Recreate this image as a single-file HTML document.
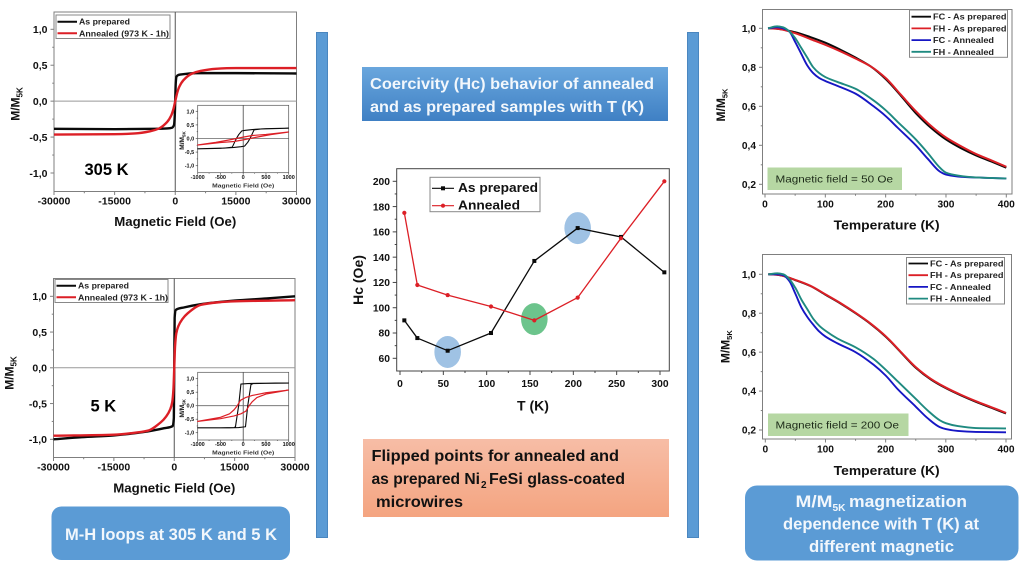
<!DOCTYPE html>
<html lang="en">
<head>
<meta charset="utf-8">
<title>Magnetic properties of Ni2FeSi microwires</title>
<style>
html,body{margin:0;padding:0;background:#fff;width:1024px;height:569px;overflow:hidden}
svg{display:block;filter:blur(0.3px)}
text{font-family:"Liberation Sans",sans-serif}
.b{font-weight:700}
.c{font-weight:700;fill:#f2f7fc}
.d{font-weight:700;fill:#111}
</style>
</head>
<body>
<svg id="stage" xmlns="http://www.w3.org/2000/svg" width="1024" height="569" viewBox="0 0 1024 569">
<defs>
<linearGradient id="blueGrad" x1="0" y1="0" x2="0" y2="1"><stop offset="0" stop-color="#69a6dd"/><stop offset="1" stop-color="#3f80c4"/></linearGradient>
<linearGradient id="orangeGrad" x1="0" y1="0" x2="0" y2="1"><stop offset="0" stop-color="#f7bda6"/><stop offset="1" stop-color="#f4a480"/></linearGradient>
</defs>
<rect x="316.5" y="32.5" width="11" height="505" fill="#5b9bd5" stroke="#4a86bf"/>
<rect x="687.5" y="32.5" width="11" height="505" fill="#5b9bd5" stroke="#4a86bf"/>

<g>
<rect x="362" y="67" width="306" height="54" fill="url(#blueGrad)"/>
<text class="c" x="370" y="89" font-size="16" textLength="284" lengthAdjust="spacingAndGlyphs">Coercivity (Hc) behavior of annealed</text>
<text class="c" x="370" y="112" font-size="16" textLength="274" lengthAdjust="spacingAndGlyphs">and as prepared samples with T (K)</text>
</g>
<g>
<rect x="363" y="439" width="306" height="78" fill="url(#orangeGrad)"/>
<text class="d" x="371.5" y="461" font-size="15.5" textLength="247.5" lengthAdjust="spacingAndGlyphs">Flipped points for annealed and</text>
<text class="d" x="371.5" y="484" font-size="15.5" textLength="108.5" lengthAdjust="spacingAndGlyphs">as prepared Ni</text>
<text class="d" x="481" y="488" font-size="10">2</text>
<text class="d" x="489" y="484" font-size="15.5" textLength="136" lengthAdjust="spacingAndGlyphs">FeSi glass-coated</text>
<text class="d" x="376" y="507" font-size="15.5" textLength="87" lengthAdjust="spacingAndGlyphs">microwires</text>
</g>
<g>
<rect x="51.5" y="506.5" width="238.5" height="53.5" rx="10" fill="#5b9bd5"/>
<text class="c" x="65" y="540" font-size="17" textLength="212" lengthAdjust="spacingAndGlyphs">M-H loops at 305 K and 5 K</text>
</g>
<g>
<rect x="745" y="485.5" width="273.5" height="75" rx="12" fill="#5b9bd5"/>
<text class="c" x="795.5" y="507" font-size="17" textLength="37" lengthAdjust="spacingAndGlyphs">M/M</text>
<text class="c" x="832.5" y="511" font-size="10.5" textLength="13" lengthAdjust="spacingAndGlyphs">5K</text>
<text class="c" x="849" y="507" font-size="17" textLength="118" lengthAdjust="spacingAndGlyphs">magnetization</text>
<text class="c" x="783" y="529.5" font-size="17" textLength="196" lengthAdjust="spacingAndGlyphs">dependence with T (K) at</text>
<text class="c" x="809" y="552" font-size="17" textLength="145" lengthAdjust="spacingAndGlyphs">different magnetic</text>
</g>

<g id="chart-mh-305"></g>
<g id="chart-mh-5"></g>
<g id="chart-hc"></g>
<g id="chart-mt-50"></g>
<g id="chart-mt-200"></g>

<text class="b" x="84.5" y="175" font-size="16.5">305 K</text>
<text class="b" x="90.5" y="411.5" font-size="16.5">5 K</text>
<g>
<rect x="767.5" y="167.5" width="134.5" height="22.5" fill="#b6d7a3"/>
<text x="775.5" y="182.5" font-size="10.5" fill="#1c2a18" textLength="117.5" lengthAdjust="spacingAndGlyphs">Magnetic field = 50 Oe</text>
</g>
<g>
<rect x="768" y="413.5" width="140.5" height="22.5" fill="#b6d7a3"/>
<text x="775.5" y="428.5" font-size="10.5" fill="#1c2a18" textLength="123.5" lengthAdjust="spacingAndGlyphs">Magnetic field = 200 Oe</text>
</g>
</svg>

<script>
/* ---------- M-H main axes ---------- */
const mhXTicks = [-30000, -15000, 0, 15000, 30000];
const mhYTicks = [-1, -0.5, 0, 0.5, 1];
const insetXTicks = [-1000, -500, 0, 500, 1000];

/* 305 K main curves */
const h305Prepared = [-30000, -15000, -5000, -2000, -800, -300, -120, 0, 120, 300, 800, 2000, 5000, 15000, 30000];
const m305Prepared = [-0.385, -0.39, -0.385, -0.38, -0.37, -0.33, -0.2, 0.02, 0.25, 0.34, 0.365, 0.375, 0.39, 0.39, 0.385];
const h305Annealed = [-30000, -15000, -10000, -6250, -4000, -2000, -1000, -500, 0, 500, 1000, 2000, 4000, 6250, 10000, 15000, 30000];
const m305Annealed = [-0.465, -0.46, -0.45, -0.42, -0.38, -0.29, -0.2, -0.12, 0, 0.12, 0.2, 0.29, 0.38, 0.42, 0.45, 0.46, 0.46];

/* 305 K inset loops (descending then ascending branch) */
const h305InsetPrepared = [1000, 500, 200, 50, -30, -100, -150, -190, -240, -400, -1000, -500, -200, -50, 30, 100, 150, 190, 240, 400, 1000];
const m305InsetPrepared = [0.38, 0.36, 0.33, 0.3, 0.28, 0.14, 0, -0.14, -0.32, -0.35, -0.38, -0.36, -0.33, -0.3, -0.28, -0.14, 0, 0.14, 0.32, 0.35, 0.38];
const h305InsetAnnealed = [1000, 500, 200, 0, -150, -300, -600, -1000, -500, -200, 0, 150, 300, 600, 1000];
const m305InsetAnnealed = [0.24, 0.15, 0.11, 0.05, 0, -0.05, -0.14, -0.24, -0.15, -0.11, -0.05, 0, 0.05, 0.14, 0.24];

/* 5 K main curves */
const h5Prepared = [-30000, -23000, -15000, -6600, -2500, -400, -100, 0, 100, 400, 2500, 6600, 15000, 23000, 30000];
const m5Prepared = [-1, -0.97, -0.945, -0.89, -0.845, -0.815, -0.7, 0, 0.7, 0.81, 0.845, 0.89, 0.94, 0.97, 1];
const h5Annealed = [-30000, -15000, -10800, -6600, -3300, -2000, -1000, -500, -200, 0, 200, 500, 1000, 2000, 3300, 6600, 10800, 15000, 30000];
const m5Annealed = [-0.95, -0.935, -0.915, -0.88, -0.76, -0.68, -0.58, -0.48, -0.3, 0, 0.3, 0.48, 0.58, 0.68, 0.76, 0.88, 0.915, 0.93, 0.945];

/* 5 K inset loops */
const h5InsetPrepared = [1000, 300, 100, -50, -100, -170, -200, -500, -1000, -300, -100, 50, 100, 170, 220, 500, 1000];
const m5InsetPrepared = [0.84, 0.83, 0.82, 0.8, 0, -0.78, -0.81, -0.82, -0.82, -0.82, -0.81, -0.78, 0, 0.78, 0.82, 0.83, 0.84];
const h5InsetAnnealed = [1000, 500, 200, 50, -60, -130, -200, -300, -500, -1000, -500, -200, -50, 60, 130, 200, 300, 500, 1000];
const m5InsetAnnealed = [0.58, 0.48, 0.38, 0.3, 0.2, 0, -0.15, -0.3, -0.43, -0.58, -0.48, -0.38, -0.3, -0.2, 0, 0.15, 0.3, 0.43, 0.58];

/* ---------- Coercivity chart ---------- */
const hcXTicks = [0, 50, 100, 150, 200, 250, 300];
const hcYTicks = [60, 80, 100, 120, 140, 160, 180, 200];
const hcTemps = [5, 20, 55, 105, 155, 205, 255, 305];
const hcPrepared = [90, 76, 66, 80, 137, 163, 156, 128];
const hcAnnealed = [175, 118, 110, 101, 90, 108, 155, 200];
const hcHighlightT = [55, 155, 205];
const hcHighlightHc = [65, 91, 163];

/* ---------- M-T charts ---------- */
const mtXTicks = [0, 100, 200, 300, 400];
const mtYTicks = [0.2, 0.4, 0.6, 0.8, 1];

const tMain = [5, 20, 50, 75, 100, 125, 150, 175, 200, 225, 250, 275, 300, 325, 350, 375, 400];
const t50FcPrepared = [1, 0.998, 0.98, 0.955, 0.926, 0.89, 0.85, 0.805, 0.74, 0.655, 0.565, 0.49, 0.43, 0.385, 0.348, 0.317, 0.285];
const t50FhPrepared = [1, 0.998, 0.975, 0.945, 0.915, 0.882, 0.845, 0.805, 0.745, 0.66, 0.575, 0.5, 0.44, 0.395, 0.355, 0.323, 0.29];
const tAnnealed = [5, 20, 30, 40, 50, 60, 70, 80, 90, 100, 120, 150, 180, 200, 220, 250, 270, 290, 300, 320, 350, 400];
const t50FcAnnealed = [1, 1.005, 1, 0.985, 0.93, 0.87, 0.81, 0.77, 0.745, 0.73, 0.705, 0.665, 0.6, 0.55, 0.49, 0.4, 0.33, 0.265, 0.25, 0.24, 0.235, 0.23];
const t50FhAnnealed = [1, 1.01, 1.005, 0.985, 0.95, 0.9, 0.85, 0.8, 0.77, 0.75, 0.725, 0.69, 0.63, 0.58, 0.52, 0.43, 0.36, 0.285, 0.26, 0.245, 0.235, 0.23];

const t200FcPrepared = [1, 0.998, 0.97, 0.94, 0.895, 0.85, 0.8, 0.745, 0.68, 0.6, 0.52, 0.46, 0.415, 0.378, 0.345, 0.315, 0.285];
const t200FhPrepared = [1, 0.998, 0.971, 0.941, 0.897, 0.852, 0.802, 0.747, 0.682, 0.602, 0.523, 0.463, 0.418, 0.381, 0.348, 0.318, 0.288];
const t200FcAnnealed = [1, 1, 0.995, 0.965, 0.9, 0.83, 0.78, 0.74, 0.705, 0.68, 0.645, 0.6, 0.535, 0.48, 0.41, 0.32, 0.26, 0.215, 0.205, 0.195, 0.19, 0.188];
const t200FhAnnealed = [1, 1.005, 1, 0.975, 0.93, 0.87, 0.82, 0.77, 0.735, 0.71, 0.67, 0.625, 0.565, 0.51, 0.45, 0.36, 0.3, 0.25, 0.235, 0.22, 0.21, 0.208];

const NS = 'http://www.w3.org/2000/svg';
const BLACK = '#0a0a0a', RED = '#dc1f26', BLUE = '#1616c4', TEAL = '#1f8a80', FRAME = '#7f7f7f';

function linearScale(d0, d1, p0, p1) {
  return function (v) { return p0 + (v - d0) * (p1 - p0) / (d1 - d0); };
}
function comma(v) { return v.toFixed(1).replace('.', ','); }

function drawRect(parent, name, x, y, w, h, fill, stroke, sw) {
  const el = document.createElementNS(NS, 'rect');
  
  
  el.setAttribute('x', x); el.setAttribute('y', y);
  el.setAttribute('width', w); el.setAttribute('height', h);
  el.setAttribute('fill', fill); el.setAttribute('stroke', stroke || 'none');
  el.setAttribute('stroke-width', sw || 1);
  parent.appendChild(el);
  return el;
}
function drawSeg(parent, name, x1, y1, x2, y2, color, sw) {
  const el = document.createElementNS(NS, 'line');
  
  
  el.setAttribute('x1', x1); el.setAttribute('y1', y1);
  el.setAttribute('x2', x2); el.setAttribute('y2', y2);
  el.setAttribute('stroke', color); el.setAttribute('stroke-width', sw);
  parent.appendChild(el);
  return el;
}
function drawText(parent, name, str, x, y, size, anchor, bold, color, len) {
  const el = document.createElementNS(NS, 'text');
  
  
  el.setAttribute('x', x); el.setAttribute('y', y);
  el.setAttribute('font-size', size);
  el.setAttribute('text-anchor', anchor);
  el.setAttribute('fill', color || '#111');
  if (bold) el.setAttribute('font-weight', '700');
  if (len) { el.setAttribute('textLength', len); el.setAttribute('lengthAdjust', 'spacingAndGlyphs'); }
  el.textContent = str;
  parent.appendChild(el);
  return el;
}
function drawRotLabel(parent, name, baseX, midY, size, subSize) {
  const el = document.createElementNS(NS, 'text');
  
  
  el.setAttribute('transform', 'translate(' + baseX + ',' + midY + ') rotate(-90)');
  el.setAttribute('text-anchor', 'middle');
  el.setAttribute('font-size', size);
  el.setAttribute('font-weight', '700');
  el.setAttribute('fill', '#111');
  el.textContent = 'M/M';
  const sub = document.createElementNS(NS, 'tspan');
  sub.setAttribute('font-size', subSize);
  sub.setAttribute('dy', subSize * 0.35);
  sub.textContent = '5K';
  el.appendChild(sub);
  parent.appendChild(el);
  return el;
}
function drawSeries(parent, name, xs, ys, sx, sy, color, sw) {
  const el = document.createElementNS(NS, 'polyline');
  
  
  el.setAttribute('fill', 'none');
  el.setAttribute('stroke', color);
  el.setAttribute('stroke-width', sw);
  el.setAttribute('stroke-linejoin', 'round');
  el.setAttribute('points', xs.map(function (v, i) { return sx(v).toFixed(2) + ',' + sy(ys[i]).toFixed(2); }).join(' '));
  parent.appendChild(el);
  return el;
}
/* monotone cubic through the data points (x must be increasing) */
function drawSmooth(parent, name, xs, ys, sx, sy, color, sw) {
  const px = xs.map(sx), py = ys.map(sy), n = px.length;
  const d = [], m = [];
  for (let i = 0; i < n - 1; i++) d.push((py[i + 1] - py[i]) / (px[i + 1] - px[i]));
  m.push(d[0]);
  for (let i = 1; i < n - 1; i++) {
    if (d[i - 1] * d[i] <= 0) { m.push(0); continue; }
    const a = px[i] - px[i - 1], b = px[i + 1] - px[i];
    m.push(3 * (a + b) / ((2 * b + a) / d[i - 1] + (b + 2 * a) / d[i]));
  }
  m.push(d[n - 2]);
  let path = 'M' + px[0].toFixed(2) + ' ' + py[0].toFixed(2);
  for (let i = 0; i < n - 1; i++) {
    const h = (px[i + 1] - px[i]) / 3;
    path += 'C' + (px[i] + h).toFixed(2) + ' ' + (py[i] + m[i] * h).toFixed(2) + ' ' +
      (px[i + 1] - h).toFixed(2) + ' ' + (py[i + 1] - m[i + 1] * h).toFixed(2) + ' ' +
      px[i + 1].toFixed(2) + ' ' + py[i + 1].toFixed(2);
  }
  const el = document.createElementNS(NS, 'path');
  
  
  el.setAttribute('fill', 'none');
  el.setAttribute('stroke', color);
  el.setAttribute('stroke-width', sw);
  el.setAttribute('stroke-linejoin', 'round');
  el.setAttribute('d', path);
  parent.appendChild(el);
  return el;
}

/* frame + major/minor ticks + tick labels */
function drawAxes(g, o) {
  drawRect(g, 'plot-frame', o.left, o.top, o.right - o.left, o.bottom - o.top, o.bg || 'none', o.frame || FRAME, o.fw || 1);
  o.xTicks.forEach(function (v, i) {
    const px = o.sx(v);
    drawSeg(g, 'x-tick', px, o.bottom, px, o.bottom + o.tick, o.frame || FRAME, o.fw || 1);
    drawText(g, 'x-tick-label', String(v), px, o.xLabelY, o.fs, 'middle', true);
    if (i < o.xTicks.length - 1) {
      const mid = o.sx((v + o.xTicks[i + 1]) / 2);
      drawSeg(g, 'x-minor-tick', mid, o.bottom, mid, o.bottom + o.tick / 2, o.frame || FRAME, o.fw || 1);
    }
  });
  o.yTicks.forEach(function (v, i) {
    const py = o.sy(v);
    drawSeg(g, 'y-tick', o.left - o.tick, py, o.left, py, o.frame || FRAME, o.fw || 1);
    drawText(g, 'y-tick-label', o.fmt ? o.fmt(v) : String(v), o.yLabelX, py + o.fs * 0.36, o.fs, 'end', true);
    if (i < o.yTicks.length - 1) {
      const mid = o.sy((v + o.yTicks[i + 1]) / 2);
      drawSeg(g, 'y-minor-tick', o.left - o.tick / 2, mid, o.left, mid, o.frame || FRAME, o.fw || 1);
    }
  });
}

/* ---------- M-H panel builder ---------- */
function buildMH(id, p) {
  const g = document.getElementById(id);
  const sx = linearScale(-30000, 30000, p.left, p.right);
  const sy = linearScale(-1, 1, p.y1m, p.y1);
  drawAxes(g, { left: p.left, right: p.right, top: p.top, bottom: p.bottom, sx: sx, sy: sy, xTicks: mhXTicks, yTicks: mhYTicks, tick: 3.5, fs: 10.5, xLabelY: p.xLabelY, yLabelX: p.left - 6.5, fmt: comma });
  drawSeg(g, 'zero-field-line', sx(0), p.top, sx(0), p.bottom, '#555', 1);
  drawSeg(g, 'zero-magnetization-line', p.left, sy(0), p.right, sy(0), '#999', 1);
  drawSmooth(g, 'as-prepared-curve', p.hP, p.mP, sx, sy, BLACK, 2.4);
  drawSmooth(g, 'annealed-curve', p.hA, p.mA, sx, sy, RED, 2.4);
  drawText(g, 'x-axis-title', 'Magnetic Field (Oe)', sx(0), p.xTitleY, 12.5, 'middle', true, '#111', 122);
  drawRotLabel(g, 'y-axis-title', p.yTitleX, p.yTitleY, 12, 8);

  /* legend */
  drawRect(g, 'legend-box', p.lx, p.ly, p.lw, p.lh, '#fff', '#888', 1);
  drawSeg(g, 'legend-line-as-prepared', p.lx + 1.5, p.l1, p.lx + 21, p.l1, BLACK, 2);
  drawText(g, 'legend-label-as-prepared', 'As prepared', p.lx + 23, p.l1 + 3, 8, 'start', true, '#222', 51);
  drawSeg(g, 'legend-line-annealed', p.lx + 1.5, p.l2, p.lx + 21, p.l2, RED, 2);
  drawText(g, 'legend-label-annealed', 'Annealed (973 K - 1h)', p.lx + 23, p.l2 + 3, 8, 'start', true, '#222', 90);

  /* inset */
  const ix = linearScale(-1000, 1000, p.iLeft, p.iRight);
  const iy = linearScale(-1, 1, p.iy1m, p.iy1);
  drawAxes(g, { left: p.iLeft, right: p.iRight, top: p.iTop, bottom: p.iBottom, sx: ix, sy: iy, xTicks: insetXTicks, yTicks: mhYTicks, tick: 2, fs: 5.5, xLabelY: p.iXLabelY, yLabelX: p.iLeft - 3.5, fmt: comma, bg: '#fff', frame: '#555', fw: 0.7 });
  drawSeg(g, 'inset-zero-field-line', ix(0), p.iTop, ix(0), p.iBottom, '#444', 0.8);
  drawSeg(g, 'inset-zero-magnetization-line', p.iLeft, iy(0), p.iRight, iy(0), '#666', 0.8);
  drawSeries(g, 'inset-as-prepared-loop', p.ihP, p.imP, ix, iy, BLACK, 1.1);
  drawSeries(g, 'inset-annealed-loop', p.ihA, p.imA, ix, iy, RED, 1.2);
  drawText(g, 'inset-x-axis-title', 'Magnetic Field (Oe)', ix(0), p.iXTitleY, 5.8, 'middle', true, '#333', 62);
  drawRotLabel(g, 'inset-y-axis-title', 184, p.iYTitleY, 6.5, 4.5);
}

buildMH('chart-mh-305', {
  left: 54, right: 296.5, top: 12, bottom: 191.5, y1: 29.3, y1m: 173,
  xLabelY: 204.5, xTitleY: 226, yTitleX: 19.5, yTitleY: 104,
  hP: h305Prepared, mP: m305Prepared, hA: h305Annealed, mA: m305Annealed,
  lx: 56, ly: 15, lw: 114, lh: 23.5, l1: 21.7, l2: 33.3,
  iLeft: 197.7, iRight: 288.7, iTop: 105.3, iBottom: 172.7, iy1: 111.3, iy1m: 165.7,
  iXLabelY: 179, iXTitleY: 187.5, iYTitleY: 140.5,
  ihP: h305InsetPrepared, imP: m305InsetPrepared, ihA: h305InsetAnnealed, imA: m305InsetAnnealed
});
buildMH('chart-mh-5', {
  left: 53.5, right: 295, top: 278.5, bottom: 457.5, y1: 296.3, y1m: 439.3,
  xLabelY: 470.5, xTitleY: 492.5, yTitleX: 13.5, yTitleY: 373,
  hP: h5Prepared, mP: m5Prepared, hA: h5Annealed, mA: m5Annealed,
  lx: 55, ly: 279.5, lw: 113, lh: 23, l1: 285.7, l2: 297.3,
  iLeft: 197.7, iRight: 288.7, iTop: 372.3, iBottom: 440, iy1: 378.7, iy1m: 432.7,
  iXLabelY: 446, iXTitleY: 454.5, iYTitleY: 408.3,
  ihP: h5InsetPrepared, imP: m5InsetPrepared, ihA: h5InsetAnnealed, imA: m5InsetAnnealed
});

/* ---------- Coercivity panel ---------- */
(function () {
  const g = document.getElementById('chart-hc');
  const sx = linearScale(0, 300, 400, 660);
  const sy = linearScale(60, 200, 358.3, 181.3);
  drawAxes(g, { left: 396.7, right: 669.3, top: 168.7, bottom: 371, sx: sx, sy: sy, xTicks: hcXTicks, yTicks: hcYTicks, tick: 4, fs: 10.3, xLabelY: 387, yLabelX: 390, frame: '#444' });
  const ellipseFill = ['#9fc2e4', '#6cc48c', '#9fc2e4'];
  hcHighlightT.forEach(function (t, i) {
    const el = document.createElementNS(NS, 'ellipse');
    
    
    el.setAttribute('cx', sx(t));
    el.setAttribute('cy', sy(hcHighlightHc[i]));
    el.setAttribute('rx', 13.3);
    el.setAttribute('ry', 16);
    el.setAttribute('fill', ellipseFill[i]);
    g.appendChild(el);
  });
  drawSeries(g, 'as-prepared-line', hcTemps, hcPrepared, sx, sy, BLACK, 1.3);
  drawSeries(g, 'annealed-line', hcTemps, hcAnnealed, sx, sy, RED, 1.3);
  hcTemps.forEach(function (t, i) {
    drawRect(g, 'as-prepared-point', sx(t) - 2, sy(hcPrepared[i]) - 2, 4, 4, BLACK);
    const c = document.createElementNS(NS, 'circle');
    
    
    c.setAttribute('cx', sx(t));
    c.setAttribute('cy', sy(hcAnnealed[i]));
    c.setAttribute('r', 2.1);
    c.setAttribute('fill', RED);
    g.appendChild(c);
  });
  drawText(g, 'x-axis-title', 'T (K)', 533, 410.5, 14, 'middle', true);
  const yt = drawText(g, 'y-axis-title', 'Hc (Oe)', 0, 0, 14, 'middle', true);
  yt.setAttribute('transform', 'translate(363,280) rotate(-90)');
  drawRect(g, 'legend-box', 430, 177.3, 110, 34.4, '#fff', '#888', 1);
  drawSeg(g, 'legend-line-as-prepared', 432, 188.3, 454, 188.3, BLACK, 1.2);
  drawRect(g, 'legend-marker-as-prepared', 441, 186.3, 4, 4, BLACK);
  drawText(g, 'legend-label-as-prepared', 'As prepared', 458, 191.8, 12.5, 'start', true, '#111', 80);
  drawSeg(g, 'legend-line-annealed', 432, 205.7, 454, 205.7, RED, 1.2);
  const lm = document.createElementNS(NS, 'circle');
  
  
  lm.setAttribute('cx', 443); lm.setAttribute('cy', 205.7); lm.setAttribute('r', 2.1);
  lm.setAttribute('fill', RED);
  g.appendChild(lm);
  drawText(g, 'legend-label-annealed', 'Annealed', 458, 209.3, 12.5, 'start', true, '#111', 62);
})();

/* ---------- M-T panel builder ---------- */
function buildMT(id, p) {
  const g = document.getElementById(id);
  const sx = linearScale(0, 400, p.x0, p.x400);
  const sy = linearScale(0.2, 1, p.y02, p.y10);
  drawAxes(g, { left: p.left, right: p.right, top: p.top, bottom: p.bottom, sx: sx, sy: sy, xTicks: mtXTicks, yTicks: mtYTicks, tick: 3.5, fs: 10.2, xLabelY: p.xLabelY, yLabelX: 756, fmt: comma });
  drawSmooth(g, 'fc-as-prepared-curve', tMain, p.fcP, sx, sy, BLACK, 2);
  drawSmooth(g, 'fh-as-prepared-curve', tMain, p.fhP, sx, sy, RED, 2);
  drawSmooth(g, 'fc-annealed-curve', tAnnealed, p.fcA, sx, sy, BLUE, 1.9);
  drawSmooth(g, 'fh-annealed-curve', tAnnealed, p.fhA, sx, sy, TEAL, 1.9);
  drawText(g, 'x-axis-title', 'Temperature (K)', 886.7, p.xTitleY, 13, 'middle', true, '#111', 106);
  drawRotLabel(g, 'y-axis-title', p.yTitleX, p.yTitleY, 12, 7.5);
  drawRect(g, 'legend-box', p.lx, p.ly, p.lw, p.lh, '#fff', '#888', 1);
  const names = ['FC - As prepared', 'FH - As prepared', 'FC - Annealed', 'FH - Annealed'];
  const colors = [BLACK, RED, BLUE, TEAL];
  const widths = [73.5, 73.5, 61, 61];
  names.forEach(function (n, i) {
    const yy = p.ly + p.first + i * 11.7;
    drawSeg(g, 'legend-line', p.lx + 2, yy, p.lx + 21.5, yy, colors[i], 1.8);
    drawText(g, 'legend-label', n, p.lx + 23.5, yy + 3, 8, 'start', true, '#222', widths[i]);
  });
}
buildMT('chart-mt-50', {
  left: 762.5, right: 1012, top: 9.5, bottom: 194, x0: 765, x400: 1006.3, y02: 184.3, y10: 28.3,
  xLabelY: 207.5, xTitleY: 229.5, yTitleX: 725, yTitleY: 105,
  fcP: t50FcPrepared, fhP: t50FhPrepared, fcA: t50FcAnnealed, fhA: t50FhAnnealed,
  lx: 909.5, ly: 10, lw: 98, lh: 47.3, first: 6.7
});
buildMT('chart-mt-200', {
  left: 762.5, right: 1011.5, top: 254.5, bottom: 439, x0: 765.3, x400: 1006, y02: 430, y10: 274.3,
  xLabelY: 452.5, xTitleY: 475, yTitleX: 729.5, yTitleY: 346.7,
  fcP: t200FcPrepared, fhP: t200FhPrepared, fcA: t200FcAnnealed, fhA: t200FhAnnealed,
  lx: 906.5, ly: 257.5, lw: 98, lh: 46.5, first: 6
});
</script>
</body>
</html>
